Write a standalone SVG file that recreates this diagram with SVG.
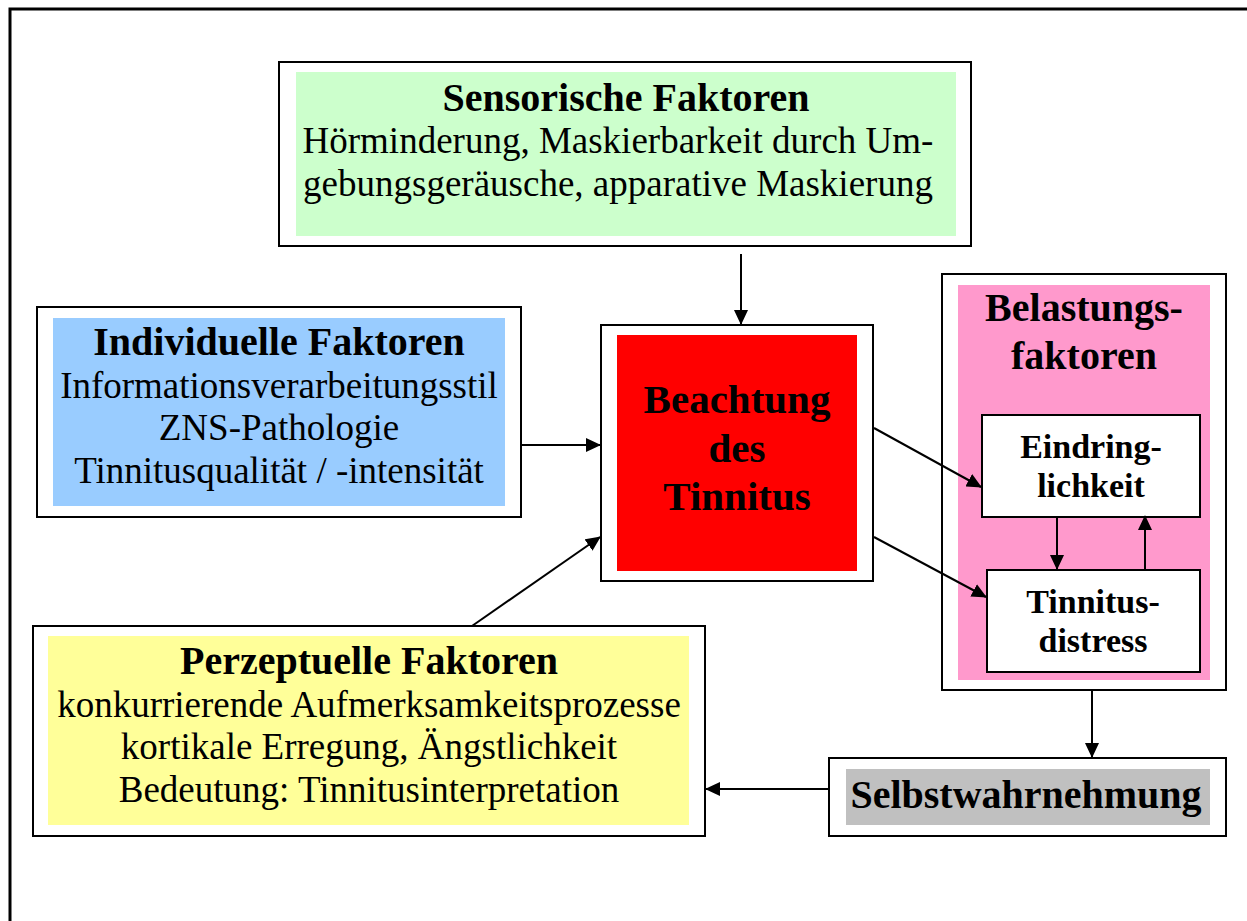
<svg xmlns="http://www.w3.org/2000/svg" width="1247" height="921" viewBox="0 0 1247 921">
<style>
.frame{fill:#fff;stroke:#000;stroke-width:2}
.inner{stroke:none}
.b{font-family:"Liberation Serif","Times New Roman",serif;font-weight:bold;text-anchor:middle;fill:#000}
.r{font-family:"Liberation Serif","Times New Roman",serif;text-anchor:middle;fill:#000;font-size:37px}
.conn line{stroke:#000;stroke-width:2;marker-end:url(#ah)}
</style>
<defs>
<marker id="ah" viewBox="0 0 15 14" refX="14" refY="7" markerWidth="15" markerHeight="14" markerUnits="userSpaceOnUse" orient="auto">
<path d="M0,0 L15,7 L0,14 Z" fill="#000"/>
</marker>
</defs>
<rect width="1247" height="921" fill="#fff"/>
<path d="M10,921 V9 H1247" fill="none" stroke="#000" stroke-width="3"/>

<g id="sensorische">
<rect class="frame" x="279" y="62" width="692" height="184"/>
<rect class="inner" x="296" y="72" width="660" height="164" fill="#ccffcc"/>
<text class="b" x="626" y="111" font-size="40">Sensorische Faktoren</text>
<text class="r" x="618" y="153">Hörminderung, Maskierbarkeit durch Um-</text>
<text class="r" x="618" y="196">gebungsgeräusche, apparative Maskierung</text>
</g>

<g id="individuelle">
<rect class="frame" x="37" y="307" width="484" height="210"/>
<rect class="inner" x="53" y="318" width="452" height="188" fill="#99ccff"/>
<text class="b" x="279" y="355" font-size="40">Individuelle Faktoren</text>
<text class="r" x="279" y="398">Informationsverarbeitungsstil</text>
<text class="r" x="279" y="440">ZNS-Pathologie</text>
<text class="r" x="279" y="483">Tinnitusqualität / -intensität</text>
</g>

<g id="beachtung">
<rect class="frame" x="601" y="325" width="272" height="256"/>
<rect class="inner" x="617" y="335" width="240" height="236" fill="#ff0000"/>
<text class="b" x="737" y="413" font-size="41">Beachtung</text>
<text class="b" x="737" y="462" font-size="41">des</text>
<text class="b" x="737" y="510" font-size="41">Tinnitus</text>
</g>

<g id="belastung">
<rect class="frame" x="942" y="274" width="284" height="416"/>
<rect class="inner" x="958" y="285" width="252" height="395" fill="#ff99cc"/>
<text class="b" x="1084" y="321" font-size="40">Belastungs-</text>
<text class="b" x="1084" y="369" font-size="40">faktoren</text>
</g>

<g id="eindringlichkeit">
<rect class="frame" x="982" y="415" width="218" height="102"/>
<text class="b" x="1091" y="458" font-size="34">Eindring-</text>
<text class="b" x="1091" y="497" font-size="34">lichkeit</text>
</g>

<g id="distress">
<rect class="frame" x="987" y="570" width="213" height="102"/>
<text class="b" x="1093" y="613" font-size="34">Tinnitus-</text>
<text class="b" x="1093" y="652" font-size="34">distress</text>
</g>

<g id="perzeptuelle">
<rect class="frame" x="33" y="626" width="672" height="210"/>
<rect class="inner" x="48" y="636" width="641" height="189" fill="#ffff99"/>
<text class="b" x="369" y="674" font-size="40">Perzeptuelle Faktoren</text>
<text class="r" x="369" y="717">konkurrierende Aufmerksamkeitsprozesse</text>
<text class="r" x="369" y="759">kortikale Erregung, Ängstlichkeit</text>
<text class="r" x="369" y="802">Bedeutung: Tinnitusinterpretation</text>
</g>

<g id="selbst">
<rect class="frame" x="829" y="758" width="397" height="78"/>
<rect class="inner" x="846" y="769" width="364" height="56" fill="#c0c0c0"/>
<text class="b" x="1026" y="808" font-size="40">Selbstwahrnehmung</text>
</g>

<g id="connectors" class="conn">
<line x1="741" y1="254" x2="741" y2="324"/>
<line x1="521" y1="445" x2="600" y2="445"/>
<line x1="472" y1="626" x2="600" y2="537"/>
<line x1="874" y1="428" x2="981" y2="487"/>
<line x1="874" y1="537" x2="986" y2="597"/>
<line x1="1057" y1="517" x2="1057" y2="569"/>
<line x1="1145" y1="569" x2="1145" y2="516"/>
<line x1="1092" y1="690" x2="1092" y2="757"/>
<line x1="828" y1="789" x2="706" y2="789"/>
</g>
</svg>
